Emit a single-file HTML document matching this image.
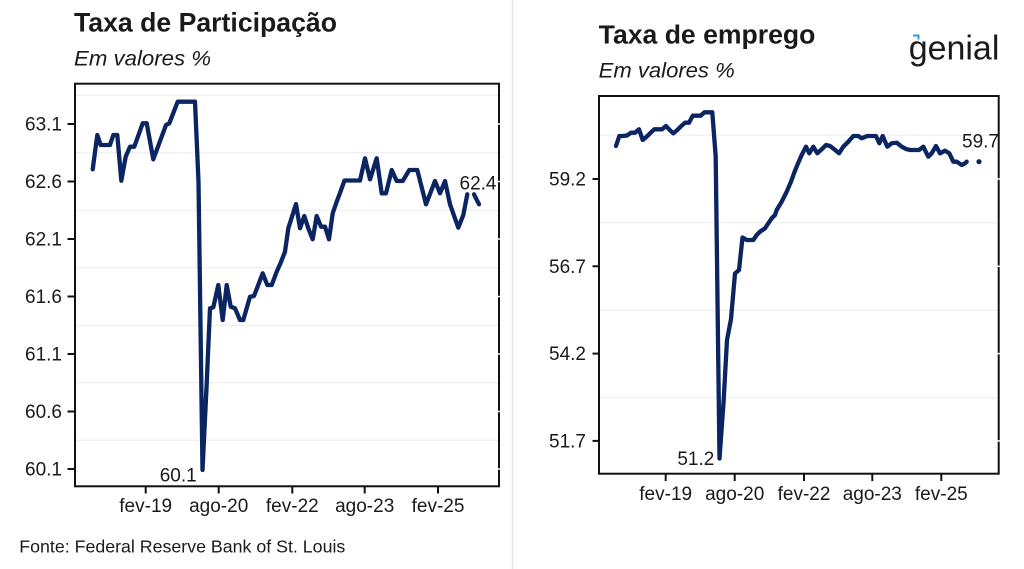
<!DOCTYPE html>
<html>
<head>
<meta charset="utf-8">
<style>
html,body{margin:0;padding:0;background:#fff;}
svg{display:block;}
text{font-family:"Liberation Sans",Arial,sans-serif;fill:#1a1a1a;}
</style>
</head>
<body>
<svg width="1024" height="569" viewBox="0 0 1024 569" xmlns="http://www.w3.org/2000/svg">
<rect x="0" y="0" width="1024" height="569" fill="#fff"/>
<line x1="512.5" y1="0" x2="512.5" y2="569" stroke="#e6e6e6" stroke-width="1.5"/>

<!-- LEFT CHART -->
<text x="74" y="31.5" font-size="26.5" font-weight="bold" textLength="263" lengthAdjust="spacingAndGlyphs" fill="#111">Taxa de Participação</text>
<text x="74" y="65.5" font-size="21.5" font-style="italic" textLength="137" lengthAdjust="spacingAndGlyphs" fill="#222">Em valores %</text>

<g stroke="#ececec" stroke-width="1">
<line x1="76" y1="95.25" x2="498" y2="95.25"/>
<line x1="76" y1="152.75" x2="498" y2="152.75"/>
<line x1="76" y1="210.25" x2="498" y2="210.25"/>
<line x1="76" y1="267.75" x2="498" y2="267.75"/>
<line x1="76" y1="325.25" x2="498" y2="325.25"/>
<line x1="76" y1="382.75" x2="498" y2="382.75"/>
<line x1="76" y1="440.25" x2="498" y2="440.25"/>
</g>

<polyline fill="none" stroke="#0b2462" stroke-width="4.3" stroke-linejoin="round" stroke-linecap="round" points="
92.7,169.3 97.3,135 100.7,145 110,145 113.3,135 117.3,135 121.3,180.7 125.7,156.7 130,146.7 134.3,146.7 142.7,123.3 146.7,123.3 153.3,159.3 166,125 169.3,123.3 177.7,101.7 195,101.7 198.5,181.7 202.5,470 206.5,388 210,308.3 213.3,307.3 218.3,285 222.7,320 226.7,285 230.7,306.7 235,308.3 240,320 243.3,320 250,296.7 254,296 262.7,273.3 267.3,285 271.7,285 276.7,271.7 280.7,262.7 285,251.7 288.3,228.3 296,204 300,228.3 304.3,216 308.3,228.3 312.7,239.3 316.7,216 321,226.7 325,226.7 329,239.3 332.7,213.3 336.6,202 340.7,191 344.5,180.5 360,180.5 365,158.3 370,179.3 376.7,158.3 381.7,193.3 386,193.3 391.7,170 396.7,181 402.7,181 409.3,170 417.3,170 426,204.3 435,181 440,193.3 445,181 450,204.3 458.3,227.7 463.3,215 467.3,194.3"/>
<polyline fill="none" stroke="#0b2462" stroke-width="4.3" stroke-linejoin="round" stroke-linecap="round" points="474,194.3 479,204.3"/>

<rect x="75" y="83.7" width="424" height="402.6" fill="none" stroke="#111" stroke-width="2"/>
<g stroke="#fff" stroke-width="1.5">
<line x1="497.5" y1="124" x2="500.5" y2="124"/>
<line x1="497.5" y1="181.5" x2="500.5" y2="181.5"/>
<line x1="497.5" y1="239" x2="500.5" y2="239"/>
<line x1="497.5" y1="296.5" x2="500.5" y2="296.5"/>
<line x1="497.5" y1="354" x2="500.5" y2="354"/>
<line x1="497.5" y1="411.5" x2="500.5" y2="411.5"/>
<line x1="497.5" y1="469" x2="500.5" y2="469"/>
</g>
<g stroke="#111" stroke-width="2">
<line x1="67.5" y1="124" x2="75" y2="124"/>
<line x1="67.5" y1="181.5" x2="75" y2="181.5"/>
<line x1="67.5" y1="239" x2="75" y2="239"/>
<line x1="67.5" y1="296.5" x2="75" y2="296.5"/>
<line x1="67.5" y1="354" x2="75" y2="354"/>
<line x1="67.5" y1="411.5" x2="75" y2="411.5"/>
<line x1="67.5" y1="469" x2="75" y2="469"/>
<line x1="145.7" y1="486.3" x2="145.7" y2="493.5"/>
<line x1="218.7" y1="486.3" x2="218.7" y2="493.5"/>
<line x1="292.3" y1="486.3" x2="292.3" y2="493.5"/>
<line x1="364.7" y1="486.3" x2="364.7" y2="493.5"/>
<line x1="438" y1="486.3" x2="438" y2="493.5"/>
</g>
<g font-size="19" text-anchor="end" fill="#222">
<text x="62" y="130.5">63.1</text>
<text x="62" y="188">62.6</text>
<text x="62" y="245.5">62.1</text>
<text x="62" y="303">61.6</text>
<text x="62" y="360.5">61.1</text>
<text x="62" y="418">60.6</text>
<text x="62" y="475.5">60.1</text>
</g>
<g font-size="19" text-anchor="middle" fill="#222">
<text x="145.7" y="512">fev-19</text>
<text x="218.7" y="512">ago-20</text>
<text x="292.3" y="512">fev-22</text>
<text x="364.7" y="512">ago-23</text>
<text x="438" y="512">fev-25</text>
</g>
<text x="196.7" y="481.7" font-size="19" text-anchor="end" fill="#222">60.1</text>
<text x="459.5" y="189.5" font-size="19" fill="#222">62.4</text>

<text x="19.3" y="552.7" font-size="17.8" textLength="326" lengthAdjust="spacingAndGlyphs" fill="#222">Fonte: Federal Reserve Bank of St. Louis</text>

<!-- RIGHT CHART -->
<text x="598.7" y="43.3" font-size="25.5" font-weight="bold" textLength="216.7" lengthAdjust="spacingAndGlyphs" fill="#111">Taxa de emprego</text>
<text x="598.7" y="77.3" font-size="21" font-style="italic" textLength="136" lengthAdjust="spacingAndGlyphs" fill="#222">Em valores %</text>

<!-- logo -->
<text x="908.7" y="59.3" font-size="34" textLength="90.7" lengthAdjust="spacingAndGlyphs" fill="#1b1e4b">genial</text>
<path d="M913,35.5 L918.5,35.5 L918.5,39.5" fill="none" stroke="#2b9cf2" stroke-width="2"/>

<g stroke="#ececec" stroke-width="1">
<line x1="600" y1="135.25" x2="998" y2="135.25"/>
<line x1="600" y1="222.75" x2="998" y2="222.75"/>
<line x1="600" y1="310.25" x2="998" y2="310.25"/>
<line x1="600" y1="397.75" x2="998" y2="397.75"/>
</g>

<polyline fill="none" stroke="#0b2462" stroke-width="4.3" stroke-linejoin="round" stroke-linecap="round" points="
616,146 619.3,136 623,136 627,135.5 631,132.7 635,132.7 639,129.3 642.7,140 646.7,136.7 650.7,132.7 654.3,129.3 658.3,129.3 662,129.3 666,126 669.7,130 673.3,133.3 677.3,130 681.3,126 685,122.7 689,122.7 692.7,115.7 696.7,115.7 700.7,115.7 704.3,112.3 708.3,112.3 712.3,112.3 715.7,156.7 719.5,458.5 723.5,403 727,340 731,319 735,273.5 739,270 742.5,237.5 746.7,240 753.3,240 756.7,235 760,231.7 765,228.3 768.3,223.3 771.7,218.3 775,215 776.7,210 781.7,201.7 786.7,191.7 791,181.7 794,173.3 797.3,165 801.7,155 806,146.7 809.3,153.3 813.3,146.7 817.3,153.3 821.7,149.3 826,145 830,146 834.3,149.3 839,153.3 843.3,146.7 848.3,141.7 853.3,136 858.3,136 861.7,138.3 867.3,136 871.7,136 876,136 879.3,143.3 882.7,136 887.3,146.7 891.7,143.3 896.7,142.7 901.7,146.7 906.7,149.3 910.7,150 919,150 923.3,146.7 928.3,156.7 931.7,153.3 936,146 940,153.3 945,150.7 949.3,153.3 953.3,161.7 956.7,161.7 961.7,165 965,163.3 966.7,161.7"/>
<circle cx="979" cy="161.7" r="2.6" fill="#0b2462"/>

<rect x="599" y="96" width="399.7" height="377.7" fill="none" stroke="#111" stroke-width="2"/>
<g stroke="#fff" stroke-width="1.5">
<line x1="997" y1="179" x2="1000.5" y2="179"/>
<line x1="997" y1="266.3" x2="1000.5" y2="266.3"/>
<line x1="997" y1="353.6" x2="1000.5" y2="353.6"/>
<line x1="997" y1="440.9" x2="1000.5" y2="440.9"/>
</g>
<g stroke="#111" stroke-width="2">
<line x1="592.5" y1="179" x2="599" y2="179"/>
<line x1="592.5" y1="266.3" x2="599" y2="266.3"/>
<line x1="592.5" y1="353.6" x2="599" y2="353.6"/>
<line x1="592.5" y1="440.9" x2="599" y2="440.9"/>
<line x1="665.7" y1="473.7" x2="665.7" y2="481"/>
<line x1="734.7" y1="473.7" x2="734.7" y2="481"/>
<line x1="804" y1="473.7" x2="804" y2="481"/>
<line x1="872.3" y1="473.7" x2="872.3" y2="481"/>
<line x1="941.3" y1="473.7" x2="941.3" y2="481"/>
</g>
<g font-size="19" text-anchor="end" fill="#222">
<text x="586" y="185.5">59.2</text>
<text x="586" y="272.8">56.7</text>
<text x="586" y="360.1">54.2</text>
<text x="586" y="447.4">51.7</text>
</g>
<g font-size="19" text-anchor="middle" fill="#222">
<text x="665.7" y="500">fev-19</text>
<text x="734.7" y="500">ago-20</text>
<text x="804" y="500">fev-22</text>
<text x="872.3" y="500">ago-23</text>
<text x="941.3" y="500">fev-25</text>
</g>
<text x="714.3" y="465" font-size="19" text-anchor="end" fill="#222">51.2</text>
<text x="962" y="147.5" font-size="19" fill="#222">59.7</text>
</svg>
</body>
</html>
